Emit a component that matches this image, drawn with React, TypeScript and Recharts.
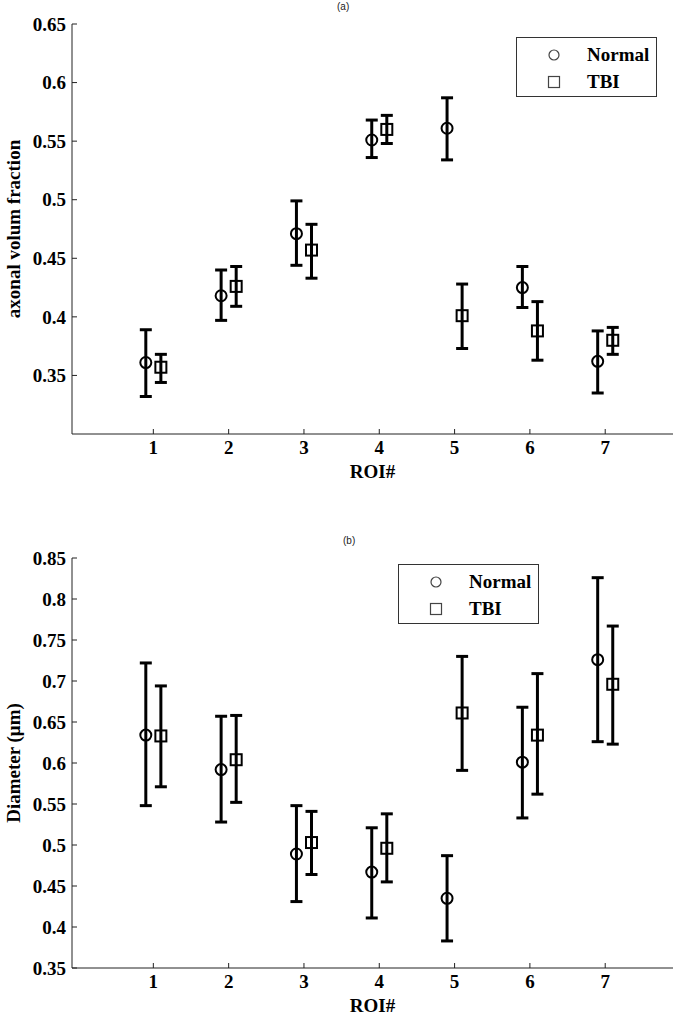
import { ScatterChart, Scatter, XAxis, YAxis, ErrorBar, Legend } from "recharts";

const roiNumbers = [1, 2, 3, 4, 5, 6, 7];

// (a) axonal volume fraction
const avfNormalMean = [0.361, 0.418, 0.471, 0.551, 0.561, 0.425, 0.362];
const avfNormalLow = [0.332, 0.397, 0.444, 0.536, 0.534, 0.408, 0.335];
const avfNormalHigh = [0.389, 0.44, 0.499, 0.568, 0.587, 0.443, 0.388];
const avfTbiMean = [0.357, 0.426, 0.457, 0.56, 0.401, 0.388, 0.38];
const avfTbiLow = [0.344, 0.409, 0.433, 0.548, 0.373, 0.363, 0.368];
const avfTbiHigh = [0.368, 0.443, 0.479, 0.572, 0.428, 0.413, 0.391];
const avfTicks = [0.35, 0.4, 0.45, 0.5, 0.55, 0.6, 0.65];

// (b) diameter
const diaNormalMean = [0.634, 0.592, 0.489, 0.467, 0.435, 0.601, 0.726];
const diaNormalLow = [0.548, 0.528, 0.431, 0.411, 0.383, 0.533, 0.626];
const diaNormalHigh = [0.722, 0.657, 0.548, 0.521, 0.487, 0.668, 0.826];
const diaTbiMean = [0.633, 0.604, 0.503, 0.496, 0.661, 0.634, 0.696];
const diaTbiLow = [0.571, 0.552, 0.464, 0.455, 0.591, 0.562, 0.623];
const diaTbiHigh = [0.694, 0.658, 0.541, 0.538, 0.73, 0.709, 0.767];
const diaTicks = [0.35, 0.4, 0.45, 0.5, 0.55, 0.6, 0.65, 0.7, 0.75, 0.8, 0.85];

const SERIF = "'Liberation Serif', 'Times New Roman', serif";
const AXIS = "#222";
const tickFont = { fontSize: 19, fontWeight: 700, fontFamily: SERIF, fill: "#000" };

const toPoints = (mean: number[], low: number[], high: number[], shift: number) =>
  roiNumbers.map((r, i) => ({
    x: r + shift,
    y: mean[i],
    err: [mean[i] - low[i], high[i] - mean[i]],
  }));

const CircleMark = (props: any) => (
  <circle cx={props.cx} cy={props.cy} r={5.5} fill="none" stroke="#000" strokeWidth={2} />
);
const SquareMark = (props: any) => (
  <rect x={props.cx - 5.5} y={props.cy - 5.5} width={11} height={11} fill="none" stroke="#000" strokeWidth={2} />
);

function LegendBox() {
  const row = { display: "flex", alignItems: "center", height: 27 } as const;
  const txt = { fontFamily: SERIF, fontWeight: 700, fontSize: 19, color: "#000", marginLeft: 26 };
  return (
    <div
      style={{
        width: 141,
        height: 60,
        boxSizing: "border-box",
        border: "1px solid #333",
        background: "#fff",
        padding: "3px 0 0 30px",
      }}
    >
      <div style={row}>
        <svg width={14} height={14}>
          <circle cx={7} cy={7} r={5} fill="none" stroke="#444" strokeWidth={1.2} />
        </svg>
        <span style={txt}>Normal</span>
      </div>
      <div style={row}>
        <svg width={14} height={14}>
          <rect x={1.5} y={1.5} width={11} height={11} fill="none" stroke="#444" strokeWidth={1.2} />
        </svg>
        <span style={txt}>TBI</span>
      </div>
    </div>
  );
}

interface PanelProps {
  title: string;
  titleLeft: number;
  titleTop: number;
  yLabel: string;
  yTicks: number[];
  yDomain: [number, number];
  height: number;
  top: number;
  xAxisHeight: number;
  labelOffset: number;
  legendLeft: number;
  legendTop: number;
  normal: ReturnType<typeof toPoints>;
  tbi: ReturnType<typeof toPoints>;
}

function Panel(p: PanelProps) {
  return (
    <div style={{ position: "relative", width: 678, height: p.height }}>
      <div
        style={{
          position: "absolute",
          left: p.titleLeft,
          top: p.titleTop,
          fontFamily: "'Liberation Sans', Arial, sans-serif",
          fontSize: 10,
          color: "#222",
        }}
      >
        {p.title}
      </div>
      <ScatterChart width={678} height={p.height} margin={{ top: p.top, right: 5, bottom: 0, left: 0 }}>
        <XAxis
          type="number"
          dataKey="x"
          domain={[-0.08, 7.9]}
          ticks={roiNumbers}
          allowDataOverflow
          height={p.xAxisHeight}
          stroke={AXIS}
          tickSize={-5}
          tickMargin={12}
          tick={tickFont}
          label={{
            value: "ROI#",
            position: "insideBottom",
            offset: p.labelOffset,
            style: { fontSize: 19, fontWeight: 700, fontFamily: SERIF, fill: "#000" },
          }}
        />
        <XAxis
          xAxisId="top"
          orientation="top"
          type="number"
          domain={[-0.08, 7.9]}
          ticks={roiNumbers}
          allowDataOverflow
          height={0}
          stroke={AXIS}
          tickSize={-5}
          tickFormatter={() => ""}
        />
        <YAxis
          type="number"
          dataKey="y"
          domain={p.yDomain}
          ticks={p.yTicks}
          allowDataOverflow
          width={72}
          stroke={AXIS}
          tickSize={-5}
          tickMargin={11}
          tick={tickFont}
          label={{
            value: p.yLabel,
            angle: -90,
            position: "insideLeft",
            offset: 13,
            style: { textAnchor: "middle", fontSize: 19, fontWeight: 700, fontFamily: SERIF, fill: "#000" },
          }}
        />
        <YAxis
          yAxisId="right"
          orientation="right"
          type="number"
          domain={p.yDomain}
          ticks={p.yTicks}
          allowDataOverflow
          width={0}
          stroke={AXIS}
          tickSize={-5}
          tickFormatter={() => ""}
        />
        <Legend
          layout="vertical"
          align="center"
          verticalAlign="middle"
          wrapperStyle={{ left: p.legendLeft, top: p.legendTop, width: 141 }}
          content={() => <LegendBox />}
        />
        <Scatter name="Normal" data={p.normal} shape={CircleMark} isAnimationActive={false}>
          <ErrorBar dataKey="err" direction="y" width={6} strokeWidth={3} stroke="#000" isAnimationActive={false} />
        </Scatter>
        <Scatter name="TBI" data={p.tbi} shape={SquareMark} isAnimationActive={false}>
          <ErrorBar dataKey="err" direction="y" width={6} strokeWidth={3} stroke="#000" isAnimationActive={false} />
        </Scatter>
      </ScatterChart>
    </div>
  );
}

export default function App() {
  return (
    <div style={{ width: 678, height: 1016, background: "#fff" }}>
      <style>{"body{margin:0;background:#fff}"}</style>
      <Panel
        title="(a)"
        titleLeft={337}
        titleTop={1}
        yLabel="axonal volum fraction"
        yTicks={avfTicks}
        yDomain={[0.3, 0.65]}
        height={490}
        top={24}
        xAxisHeight={56}
        labelOffset={12}
        legendLeft={516}
        legendTop={37}
        normal={toPoints(avfNormalMean, avfNormalLow, avfNormalHigh, -0.1)}
        tbi={toPoints(avfTbiMean, avfTbiLow, avfTbiHigh, 0.1)}
      />
      <Panel
        title="(b)"
        titleLeft={343}
        titleTop={45}
        yLabel="Diameter (μm)"
        yTicks={diaTicks}
        yDomain={[0.35, 0.85]}
        height={526}
        top={68}
        xAxisHeight={48}
        labelOffset={4}
        legendLeft={398}
        legendTop={74}
        normal={toPoints(diaNormalMean, diaNormalLow, diaNormalHigh, -0.1)}
        tbi={toPoints(diaTbiMean, diaTbiLow, diaTbiHigh, 0.1)}
      />
    </div>
  );
}
